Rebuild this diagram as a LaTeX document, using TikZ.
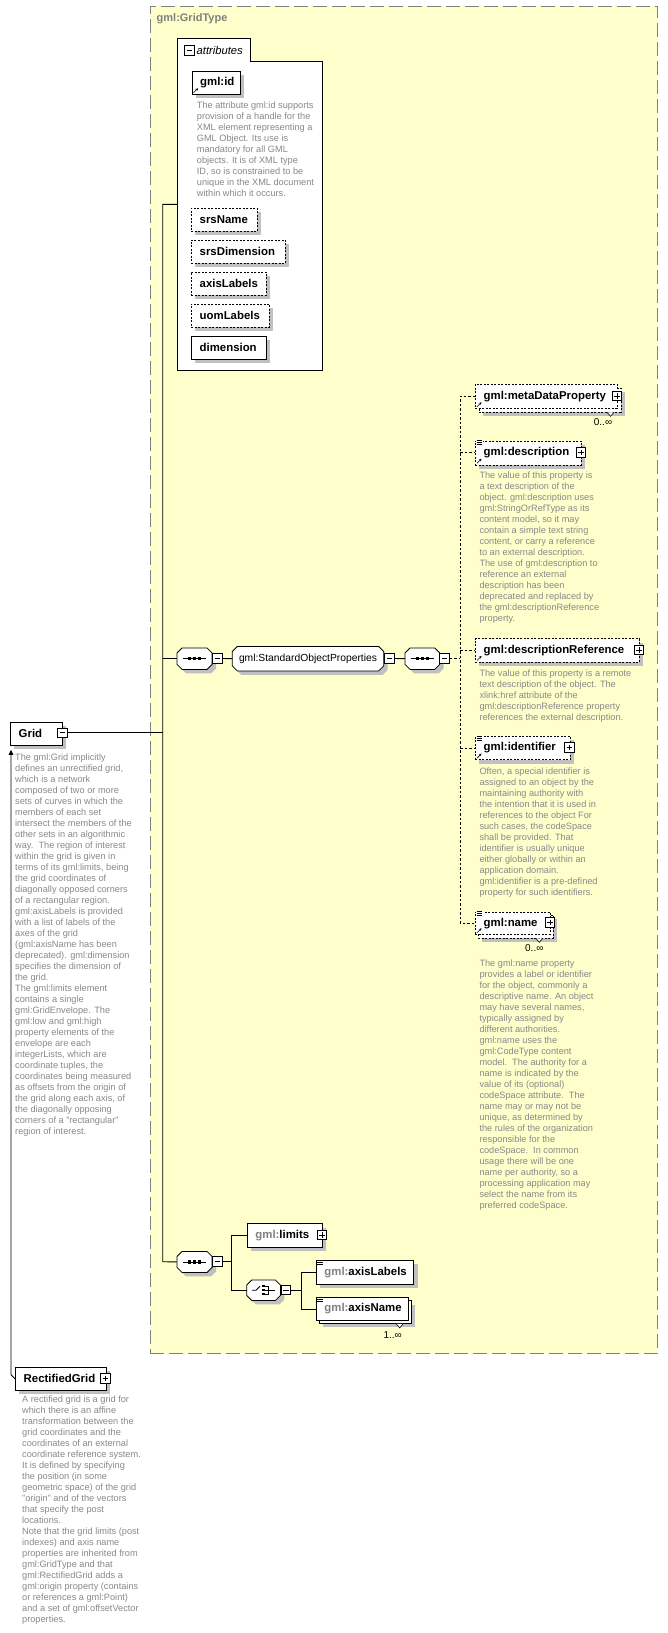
\documentclass[tikz,border=0pt]{standalone}
\usepackage{fontspec}
\setmainfont{Liberation Sans}
\usetikzlibrary{calc,shadows,arrows.meta}
\definecolor{bgyellow}{RGB}{255,255,204}
\definecolor{framegray}{RGB}{128,128,128}
\definecolor{shadowgray}{RGB}{192,192,192}
\definecolor{descgray}{RGB}{136,136,136}
\definecolor{prefgray}{RGB}{128,128,128}
\newcommand\lblfont{\fontsize{11.4}{13}\selectfont\bfseries}
\newcommand\descfont{\fontsize{9.2}{11}\selectfont}
\newcommand\plainfont{\fontsize{10.3}{12}\selectfont}
\newcommand\occfont{\fontsize{10}{12}\selectfont}
\tikzset{
  boxbase/.style={rectangle, anchor=north west, inner sep=0pt, fill=white, draw=black, line width=0.8pt},
  elbox/.style={boxbase, drop shadow={shadow xshift=4pt, shadow yshift=-4pt, opacity=1, fill=shadowgray}},
  optbox/.style={elbox, dash pattern=on 2pt off 1.5pt},
  optfront/.style={boxbase, dash pattern=on 2pt off 1.5pt},
  lbl/.style={anchor=west, inner sep=0pt, font=\lblfont},
  desc/.style={anchor=north west, inner sep=0pt, align=left, font=\descfont, text=descgray},
  occ/.style={inner sep=0pt, font=\occfont},
  conn/.style={draw=black, line width=0.9pt},
  dconn/.style={conn, dash pattern=on 2.5pt off 2pt},
  pmbase/.style={rectangle, draw=black, fill=white, line width=1pt, minimum size=9.5pt, inner sep=0pt},
  pmminus/.style={pmbase, path picture={\draw[line width=0.9pt] ($(path picture bounding box.west)+(2pt,0)$) -- ($(path picture bounding box.east)+(-2pt,0)$);}},
  pmplus/.style={pmbase, path picture={\draw[line width=0.9pt] ($(path picture bounding box.west)+(2pt,0)$) -- ($(path picture bounding box.east)+(-2pt,0)$) ($(path picture bounding box.north)+(0,-2pt)$) -- ($(path picture bounding box.south)+(0,2pt)$);}},
  compobox/.style={rectangle, anchor=north west, inner sep=0pt},
}
\newcommand\elem[7]{%
  \pgfmathsetmacro\bw{#4-#2}\pgfmathsetmacro\bh{#5-#3}%
  \node[#6, minimum width=\bw pt, minimum height=\bh pt] (#1) at (#2,#3) {};
  \node[lbl] (#1-t) at ($(#1.west)+(8.5pt,0)$) {#7};
}
\newcommand\plainbox[6]{%
  \pgfmathsetmacro\bw{#4-#2}\pgfmathsetmacro\bh{#5-#3}%
  \node[#6, minimum width=\bw pt, minimum height=\bh pt] (#1) at (#2,#3) {};
}
\newcommand\octpath[1]{($(#1.north west)+(5,0)$) -- ($(#1.north east)+(-5,0)$) -- ($(#1.north east)+(0,5)$) -- ($(#1.south east)+(0,-5)$) -- ($(#1.south east)+(-5,0)$) -- ($(#1.south west)+(5,0)$) -- ($(#1.south west)+(0,-5)$) -- ($(#1.north west)+(0,5)$) -- cycle}
\newcommand\compo[5]{%
  \pgfmathsetmacro\bw{#4-#2}\pgfmathsetmacro\bh{#5-#3}%
  \node[compobox, minimum width=\bw pt, minimum height=\bh pt] (#1) at (#2,#3) {};
  \fill[shadowgray, transform canvas={shift={(4pt,-4pt)}}] \octpath{#1};
  \draw[fill=white, line width=0.8pt] \octpath{#1};
}
\newcommand\seqicon[1]{%
  \draw[line width=0.8pt] ($(#1.center)+(-11.5,0)$) -- ($(#1.center)+(11.5,0)$);
  \fill ($(#1.center)+(-6.6,-1.6)$) rectangle +(3.2,3.2);
  \fill ($(#1.center)+(-1.6,-1.6)$) rectangle +(3.2,3.2);
  \fill ($(#1.center)+(3.4,-1.6)$) rectangle +(3.2,3.2);
}
\newcommand\choiceicon[1]{%
  \draw[line width=0.8pt] ($(#1.center)+(-11.5,0)$) -- ($(#1.center)+(-7.5,0)$) -- ($(#1.center)+(-3.5,-4)$);
  \fill ($(#1.center)+(-1.2,-5.2)$) rectangle +(2.4,2.4);
  \fill ($(#1.center)+(-1.2,-1.2)$) rectangle +(2.4,2.4);
  \fill ($(#1.center)+(-1.2,2.8)$) rectangle +(2.4,2.4);
  \draw[line width=0.8pt] ($(#1.center)+(1.5,-4)$) -- ($(#1.center)+(5,-4)$) -- ($(#1.center)+(5,4)$) -- ($(#1.center)+(1.5,4)$);
  \draw[line width=0.8pt] ($(#1.center)+(1.2,0)$) -- ($(#1.center)+(11.5,0)$);
}
\newcommand\refarrow[1]{%
  \draw[line width=0.6pt, -{Stealth[length=2.6pt,width=2.6pt]}] ($(#1.south west)+(2,-2)$) -- ($(#1.south west)+(6.5,-6.5)$);
}
\newcommand\mlicon[1]{%
  \fill[white] ($(#1.north west)+(1,-0.8)$) rectangle ($(#1.north west)+(7.5,4.6)$);
  \draw[line width=0.55pt] ($(#1.north west)+(1.5,-0.2)$) -- +(5.5,0) ($(#1.north west)+(1.5,1.8)$) -- +(5.5,0) ($(#1.north west)+(1.5,3.8)$) -- +(5.5,0);
}
\newcommand\notch[2]{%
  \draw[fill=white, line width=0.6pt] ($(#1.south west)+(#2-3.5,0)$) -- ($(#1.south west)+(#2,4)$) -- ($(#1.south west)+(#2+3.5,0)$);
}
\begin{document}
\begin{tikzpicture}[x=1pt,y=-1pt]
\useasboundingbox (0,0) rectangle (667,1633);
% container
\node[draw=framegray, fill=bgyellow, line width=1pt, dash pattern=on 14pt off 5pt, anchor=north west, minimum width=507.2pt, minimum height=1347.8pt, inner sep=0pt] (gridtype) at (149.5,5.5) {};
\node[anchor=west, inner sep=0pt, font=\fontsize{11}{13}\selectfont\bfseries, text=framegray] (gridtype-t) at (156.5,18.5) {gml:GridType};

% attributes group
\draw[fill=white, line width=0.8pt] (177,38.5) -- (250,38.5) -- (250,61) -- (322.7,61) -- (322.7,370) -- (177,370) -- cycle;
\node[pmminus] (attr-pm) at (189.3,50.3) {};
\node[anchor=west, inner sep=0pt, font=\fontsize{11.2}{13}\selectfont\itshape] (attr-t) at (196.5,50.3) {attributes};
\coordinate (attrL) at (177,204.3);

\elem{gmlid}{191.5}{70.5}{240}{94}{elbox}{gml:id}
\refarrow{gmlid}
\node[desc] (gmlid-d) at (196.7,102) {The attribute gml:id supports\\provision of a handle for the\\XML element representing a\\GML Object. Its use is\\mandatory for all GML\\objects. It is of XML type\\ID, so is constrained to be\\unique in the XML document\\within which it occurs.};
\elem{srsname}{191}{207.5}{256.7}{231}{optbox}{srsName}
\elem{srsdim}{191}{239.5}{285}{263}{optbox}{srsDimension}
\elem{axlab}{191}{271.5}{266}{295}{optbox}{axisLabels}
\elem{uomlab}{191}{303.5}{269}{327}{optbox}{uomLabels}
\elem{dimension}{191}{335.5}{265.7}{359}{elbox}{dimension}

% Grid
\elem{grid}{10}{721.7}{62}{745}{elbox}{Grid}
\node[pmminus] (grid-pm) at (62.5,732.8) {};
\node[desc] (grid-d) at (15,753.5) {The gml:Grid implicitly\\defines an unrectified grid,\\which is a network\\composed of two or more\\sets of curves in which the\\members of each set\\intersect the members of the\\other sets in an algorithmic\\way.\ \ The region of interest\\within the grid is given in\\terms of its gml:limits, being\\the grid coordinates of\\diagonally opposed corners\\of a rectangular region.\\gml:axisLabels is provided\\with a list of labels of the\\axes of the grid\\(gml:axisName has been\\deprecated). gml:dimension\\specifies the dimension of\\the grid.\\The gml:limits element\\contains a single\\gml:GridEnvelope. The\\gml:low and gml:high\\property elements of the\\envelope are each\\integerLists, which are\\coordinate tuples, the\\coordinates being measured\\as offsets from the origin of\\the grid along each axis, of\\the diagonally opposing\\corners of a "rectangular"\\region of interest.};

% RectifiedGrid
\elem{rgrid}{15}{1366.7}{106}{1390}{elbox}{RectifiedGrid}
\node[pmplus] (rgrid-pm) at (105.5,1378.5) {};
\node[desc] (rgrid-d) at (22,1395.5) {A rectified grid is a grid for\\which there is an affine\\transformation between the\\grid coordinates and the\\coordinates of an external\\coordinate reference system.\\It is defined by specifying\\the position (in some\\geometric space) of the grid\\"origin" and of the vectors\\that specify the post\\locations.\\Note that the grid limits (post\\indexes) and axis name\\properties are inherited from\\gml:GridType and that\\gml:RectifiedGrid adds a\\gml:origin property (contains\\or references a gml:Point)\\and a set of gml:offsetVector\\properties.};
\draw[conn, -{Triangle[length=5pt,width=4.5pt]}] (rgrid.west) -- ($(rgrid.west)+(-4,-4)$) -- ($(grid.south west)+(1,4)$);

% sequence 1 and standard object properties
\compo{seq1}{177}{648}{211.7}{669}
\seqicon{seq1}
\node[pmminus] (seq1-pm) at (217.3,658.5) {};
\compo{sop}{232.3}{646.5}{383.3}{670.5}
\node[inner sep=0pt, font=\plainfont] (sop-t) at (sop.center) {gml:StandardObjectProperties};
\node[pmminus] (sop-pm) at (389.7,658.5) {};
\compo{seq2}{405}{648}{439.3}{669}
\seqicon{seq2}
\node[pmminus] (seq2-pm) at (444.7,658.5) {};

% sequence 3
\compo{seq3}{177}{1251.5}{211.7}{1272}
\seqicon{seq3}
\node[pmminus] (seq3-pm) at (217.3,1261.7) {};

% trunk
\coordinate (trTop) at (162.7,204.3);
\coordinate (trBot) at (162.7,1261.7);
\draw[conn] (attrL) -- (trTop) -- (trBot) -- (seq3.west);
\draw[conn] (grid-pm.east) -- (grid-pm.east -| trTop);
\draw[conn] (seq1.west -| trTop) -- (seq1.west);
\draw[conn] (seq1-pm.east) -- (sop.west);
\draw[conn] (sop-pm.east) -- (seq2.west);

% right-hand elements
\plainbox{meta-b}{478.5}{387.5}{620.5}{411.5}{optbox}
\plainbox{meta}{475}{384}{617}{408}{optfront}
\node[lbl] (meta-t) at ($(meta.west)+(8.5pt,0)$) {gml:metaDataProperty};
\refarrow{meta}
\node[pmplus] (meta-pm) at (617,396) {};
\notch{meta-b}{132}
\node[occ] (meta-o) at (603,421.7) {0..∞};

\elem{descr}{475}{440.5}{581}{464.5}{optbox}{gml:description}
\mlicon{descr}
\refarrow{descr}
\node[pmplus] (descr-pm) at (581,452.5) {};
\node[desc] (descr-d) at (479.3,472) {The value of this property is\\a text description of the\\object. gml:description uses\\gml:StringOrRefType as its\\content model, so it may\\contain a simple text string\\content, or carry a reference\\to an external description.\\The use of gml:description to\\reference an external\\description has been\\deprecated and replaced by\\the gml:descriptionReference\\property.};

\elem{dref}{475}{638.3}{639}{661.7}{optbox}{gml:descriptionReference}
\refarrow{dref}
\node[pmplus] (dref-pm) at (639,650) {};
\node[desc] (dref-d) at (479.3,669.5) {The value of this property is a remote\\text description of the object. The\\xlink:href attribute of the\\gml:descriptionReference property\\references the external description.};

\elem{ident}{475}{736}{570}{759.3}{optbox}{gml:identifier}
\mlicon{ident}
\refarrow{ident}
\node[pmplus] (ident-pm) at (569.5,747.7) {};
\node[desc] (ident-d) at (479.3,768) {Often, a special identifier is\\assigned to an object by the\\maintaining authority with\\the intention that it is used in\\references to the object For\\such cases, the codeSpace\\shall be provided. That\\identifier is usually unique\\either globally or within an\\application domain.\\gml:identifier is a pre-defined\\property for such identifiers.};

\plainbox{name-b}{478}{914.5}{553}{937.5}{optbox}
\plainbox{name}{475}{911.5}{550}{934}{optfront}
\node[lbl] (name-t) at ($(name.west)+(8.5pt,0)$) {gml:name};
\mlicon{name}
\refarrow{name}
\node[pmplus] (name-pm) at (550,922.7) {};
\notch{name-b}{61.3}
\node[occ] (name-o) at (534.3,948.3) {0..∞};
\node[desc] (name-d) at (479.3,959.5) {The gml:name property\\provides a label or identifier\\for the object, commonly a\\descriptive name. An object\\may have several names,\\typically assigned by\\different authorities.\\gml:name uses the\\gml:CodeType content\\model.\ \ The authority for a\\name is indicated by the\\value of its (optional)\\codeSpace attribute.\ \ The\\name may or may not be\\unique, as determined by\\the rules of the organization\\responsible for the\\codeSpace.\ \ In common\\usage there will be one\\name per authority, so a\\processing application may\\select the name from its\\preferred codeSpace.};

% dashed fan
\coordinate (dtop) at (460,396);
\draw[dconn] (seq2-pm.east) -- (seq2-pm.east -| dtop);
\draw[dconn] (meta.west) -- (meta.west -| dtop) -- (name.west -| dtop) -- (name.west);
\draw[dconn] (descr.west -| dtop) -- (descr.west);
\draw[dconn] (dref.west -| dtop) -- (dref.west);
\draw[dconn] (ident.west -| dtop) -- (ident.west);

% limits / choice
\elem{limits}{246.7}{1223.3}{321.7}{1246.7}{elbox}{{\color{prefgray}gml:}limits}
\node[pmplus] (limits-pm) at (322,1235) {};
\compo{choice}{246.7}{1280}{280}{1300}
\choiceicon{choice}
\node[pmminus] (choice-pm) at (285.8,1290) {};
\coordinate (b1) at (231.7,1235);
\draw[conn] (seq3-pm.east) -- (seq3-pm.east -| b1);
\draw[conn] (limits.west) -- (limits.west -| b1) -- (choice.west -| b1) -- (choice.west);

\elem{axlabels}{315.7}{1260}{413.3}{1284}{elbox}{{\color{prefgray}gml:}axisLabels}
\mlicon{axlabels}
\plainbox{axname-b}{318.7}{1300.3}{410.7}{1323}{elbox}
\plainbox{axname}{315.7}{1297.3}{407.7}{1320}{boxbase}
\node[lbl] (axname-t) at ($(axname.west)+(8.5pt,0)$) {{\color{prefgray}gml:}axisName};
\mlicon{axname}
\notch{axname-b}{81}
\node[occ] (axname-o) at (392.7,1335) {1..∞};
\coordinate (b2) at (301,1272);
\draw[conn] (choice-pm.east) -- (choice-pm.east -| b2);
\draw[conn] (axlabels.west) -- (axlabels.west -| b2) -- (axname.west -| b2) -- (axname.west);
\end{tikzpicture}
\end{document}
